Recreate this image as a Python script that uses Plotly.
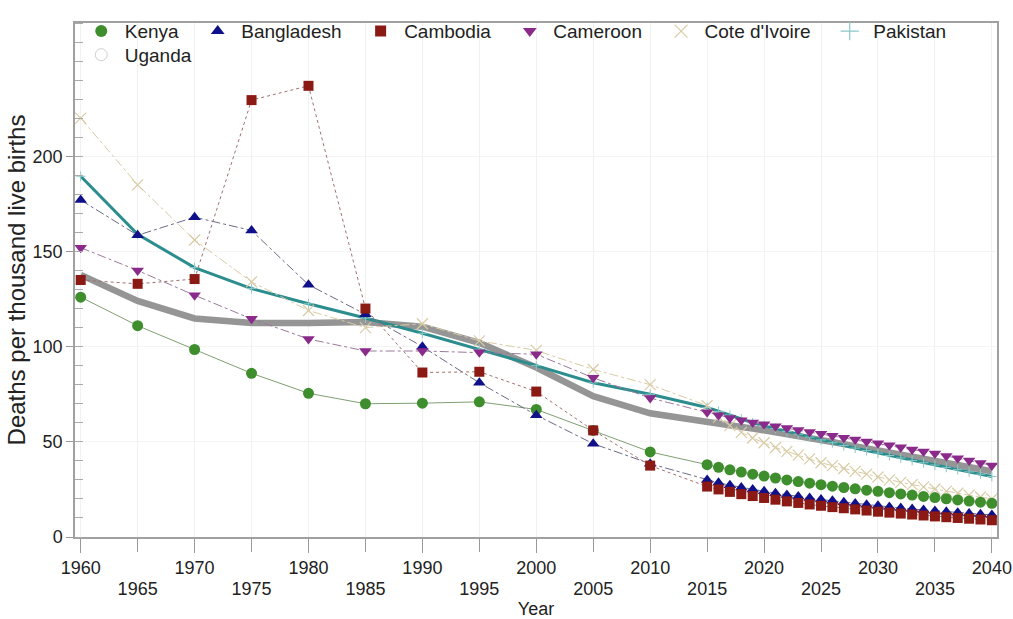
import plotly.graph_objects as go

years = list(range(1960, 2015, 5)) + list(range(2015, 2041))

kenya = [126, 111, 98.5, 86, 75.5, 70, 70.3, 71, 67, 56, 44.7,
         38, 36.6, 35.3, 34.1, 33, 32, 31, 30, 29.1, 28.3, 27.5, 26.7, 26, 25.3, 24.6,
         24, 23.3, 22.6, 22, 21.3, 20.7, 20.1, 19.5, 18.9, 18.3, 17.7]
bangladesh = [177, 158.5, 168, 161, 132.5, 117, 100, 81, 64, 49, 38.5,
              30, 28.5, 27.2, 26, 25, 24, 23, 22.1, 21.3, 20.5, 19.7, 19, 18.3, 17.6, 17,
              16.4, 15.8, 15.2, 14.7, 14.2, 13.7, 13.2, 12.8, 12.4, 12, 11.6]
cambodia = [135, 133, 135.5, 229.5, 237, 120, 86.4, 86.8, 76.4, 56, 37.5,
            26.5, 25, 23.7, 22.5, 21.5, 20.5, 19.6, 18.7, 17.9, 17.1, 16.4, 15.7, 15.1, 14.5, 13.9,
            13.3, 12.8, 12.3, 11.8, 11.3, 10.8, 10.4, 10, 9.6, 9.2, 8.8]
cameroon = [152, 140, 127, 114.6, 104, 97.7, 97.7, 97, 96, 83.6, 73,
            65.5, 64, 62.5, 61.3, 60.2, 59.2, 58.2, 57.2, 56.2, 55.2, 54.2, 53.2, 52.2, 51.2, 50.2,
            49.2, 48.2, 47.1, 46, 44.9, 43.8, 42.6, 41.4, 40.2, 38.9, 37.6]
cote_divoire = [220, 185, 156, 134, 119, 110, 112, 103, 98, 88, 80,
                69, 63, 58.5, 55, 52, 49.5, 47, 45, 43, 41, 39, 37.5, 36, 34.5, 33,
                31.5, 30, 28.7, 27.5, 26.3, 25.2, 24.1, 23, 22, 21, 20]
pakistan = [189.5, 159, 141.5, 130.5, 122.5, 115, 107, 98.6, 90, 81, 75,
            68, 66, 64, 62, 60, 58.5, 57, 55.5, 54, 52.5, 51, 49.5, 48, 46.7, 45.4,
            44.1, 42.8, 41.5, 40.2, 39, 37.8, 36.6, 35.4, 34.2, 33, 31.8]
uganda = [137.7, 124, 114.8, 112.4, 112.4, 112.9, 110.5, 102, 89, 74, 65,
          60, 59.3, 58.6, 57.8, 57, 56.1, 55.2, 54.2, 53.2, 52.1, 51, 49.9, 48.8, 47.7, 46.6,
          45.5, 44.4, 43.3, 42.2, 41.1, 40, 38.9, 37.8, 36.7, 35.6, 34.5]

x_ticks_major = list(range(1960, 2041, 10))
x_ticks_offset = list(range(1965, 2040, 10))
y_ticks = [0, 50, 100, 150, 200]

FONT = "Liberation Sans, Arial, sans-serif"
PAD = "\u00a0\u00a0"

fig = go.Figure()

fig.add_trace(go.Scatter(x=years, y=uganda, mode="lines", line=dict(color="#959595", width=6.5),
                         showlegend=False, hoverinfo="skip"))
fig.add_trace(go.Scatter(x=years, y=pakistan, mode="lines+markers",
                         line=dict(color="#2b8d8d", width=3),
                         marker=dict(symbol="cross-thin", size=7, line=dict(color="#8cc8c8", width=1)),
                         showlegend=False))
fig.add_trace(go.Scatter(x=years, y=cote_divoire, mode="lines+markers",
                         line=dict(color="#d8cba4", width=1, dash="dashdot"),
                         marker=dict(symbol="x-thin", size=11, line=dict(color="#d8cba4", width=1.2)),
                         showlegend=False))
fig.add_trace(go.Scatter(x=years, y=kenya, mode="lines+markers",
                         line=dict(color="#7f9f72", width=1),
                         marker=dict(symbol="circle", size=11, color="#3e8e2e"),
                         showlegend=False))
fig.add_trace(go.Scatter(x=years, y=bangladesh, mode="lines+markers",
                         line=dict(color="#6a6a86", width=1, dash="dashdot"),
                         marker=dict(symbol="triangle-up", size=11, color="#10108a"),
                         showlegend=False))
fig.add_trace(go.Scatter(x=years, y=cambodia, mode="lines+markers",
                         line=dict(color="#a07070", width=1, dash="dot"),
                         marker=dict(symbol="square", size=10, color="#8b1a14"),
                         showlegend=False))
fig.add_trace(go.Scatter(x=years, y=cameroon, mode="lines+markers",
                         line=dict(color="#9a7a9a", width=1, dash="dashdot"),
                         marker=dict(symbol="triangle-down", size=11, color="#8a2a8a"),
                         showlegend=False))

legend_items = [
    ("Kenya", dict(symbol="circle", size=12, color="#3e8e2e"), "legend"),
    ("Bangladesh", dict(symbol="triangle-up", size=12, color="#10108a"), "legend"),
    ("Cambodia", dict(symbol="square", size=11, color="#8b1a14"), "legend"),
    ("Cameroon", dict(symbol="triangle-down", size=12, color="#8a2a8a"), "legend"),
    ("Cote d'Ivoire", dict(symbol="x-thin", size=13, line=dict(color="#d8cba4", width=1.2)), "legend"),
    ("Pakistan", dict(symbol="cross-thin", size=13, line=dict(color="#8cc8c8", width=1.2)), "legend"),
    ("Uganda", dict(symbol="circle-open", size=12, color="#d0d0d0"), "legend2"),
]
for name, mk, lg in legend_items:
    fig.add_trace(go.Scatter(x=[None], y=[None], mode="markers", marker=mk, name=name + PAD,
                             legend=lg))

# second x axis only for the staggered (offset-row) tick labels
fig.add_trace(go.Scatter(x=[None], y=[None], xaxis="x2", showlegend=False))

legend_style = dict(orientation="h", xanchor="left", yanchor="top",
                    bgcolor="rgba(255,255,255,0)", font=dict(size=19), itemwidth=37,
                    tracegroupgap=0)

fig.update_layout(
    width=1013, height=619,
    margin=dict(l=75, r=16, t=12, b=82),
    paper_bgcolor="white", plot_bgcolor="white",
    font=dict(family=FONT, size=18, color="#222222"),
    showlegend=True,
    legend=dict(x=0.003, y=1.021, **legend_style),
    legend2=dict(x=0.003, y=0.975, **legend_style),
    xaxis=dict(
        range=[1959.5, 2040.45], tickvals=x_ticks_major,
        ticks="outside", ticklen=14, tickcolor="#999999", tickwidth=1,
        showline=True, linecolor="#a0a0a0", linewidth=1.5, mirror=True,
        showgrid=True, gridcolor="#f1f1f1", zeroline=False,
        tickfont=dict(size=18), automargin=False,
        title=dict(text="Year", font=dict(size=18), standoff=40),
    ),
    xaxis2=dict(
        range=[1959.5, 2040.45], tickvals=x_ticks_offset, overlaying="x", anchor="y", side="bottom",
        ticks="outside", ticklen=14, tickcolor="#999999", tickwidth=1,
        showline=False, showgrid=True, gridcolor="#f1f1f1", zeroline=False,
        tickfont=dict(size=18), ticklabelstandoff=21, automargin=False,
    ),
    yaxis=dict(
        range=[0, 270], tickvals=y_ticks,
        ticks="outside", ticklen=7, tickcolor="#999999", tickwidth=1,
        minor=dict(dtick=10, tick0=0, ticks="inside", ticklen=8, tickcolor="#aaaaaa", showgrid=False),
        showline=True, linecolor="#a0a0a0", linewidth=1.5, mirror=True,
        showgrid=True, gridcolor="#f4f4f4", zeroline=False,
        tickfont=dict(size=18), automargin=False,
        title=dict(text="Deaths per thousand live births", font=dict(size=24), standoff=0),
    ),
)

fig.write_html("out.html")
